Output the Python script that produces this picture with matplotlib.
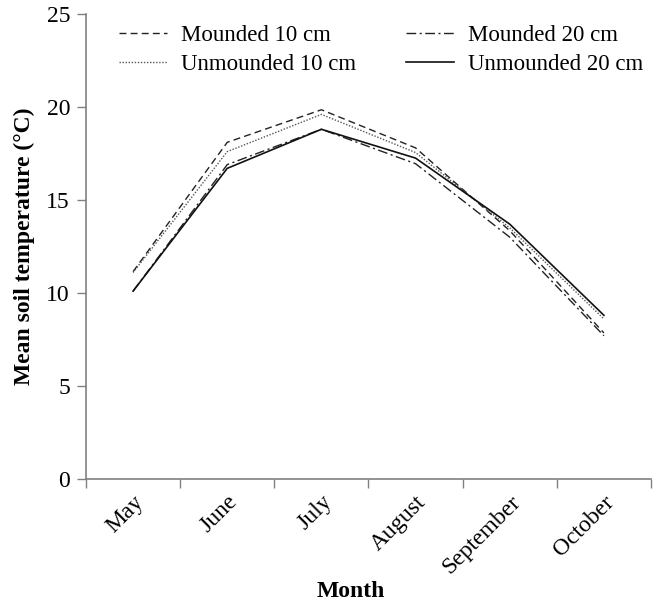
import matplotlib
matplotlib.use("Agg")
import matplotlib.pyplot as plt
import numpy as np

months = ["May", "June", "July", "August", "September", "October"]
mounded_10 = [11.15, 18.1, 19.85, 17.8, 13.35, 7.85]
unmounded_10 = [11.1, 17.6, 19.6, 17.55, 13.5, 8.6]
mounded_20 = [10.1, 16.9, 18.8, 16.95, 13.0, 7.7]
unmounded_20 = [10.1, 16.7, 18.8, 17.25, 13.7, 8.8]

plt.rcParams['font.family'] = ['Liberation Serif', 'DejaVu Serif']

fig = plt.figure(figsize=(6.54, 6.07), dpi=100)
ax = fig.add_axes([0.1315, 0.2109, 0.8639, 0.7661])

x = np.arange(len(months))
ax.plot(x, mounded_10, color='#222222', lw=1.0, linestyle=(0, (5, 3)), label='Mounded 10 cm')
ax.plot(x, unmounded_10, color='#555555', lw=1.0, linestyle=(0, (1, 1.2)), label='Unmounded 10 cm')
ax.plot(x, mounded_20, color='#222222', lw=1.0, linestyle=(0, (7, 2.5, 1.5, 2.5)), label='Mounded 20 cm')
ax.plot(x, unmounded_20, color='#111111', lw=1.2, linestyle='-', label='Unmounded 20 cm')

ax.set_xlim(-0.5, len(months) - 0.5)
ax.set_ylim(0, 25)
ax.set_yticks(range(0, 26, 5))

# tick marks at category boundaries, labels at the centres
ax.set_xticks(np.arange(-0.5, len(months), 1.0))
ax.set_xticklabels([])
ax.set_xticks(x, minor=True)
ax.set_xticklabels(months, minor=True, rotation=45, ha='right', rotation_mode='anchor')
ax.tick_params(axis='x', which='minor', length=0, pad=9, labelsize=17)
ax.tick_params(axis='x', which='major', length=6.5, width=1, color='#808080', direction='out')
ax.tick_params(axis='y', length=6.5, width=1, color='#808080', labelsize=17, pad=5)

for s in ['top', 'right']:
    ax.spines[s].set_visible(False)
for s in ['left', 'bottom']:
    ax.spines[s].set_color('#808080')
    ax.spines[s].set_linewidth(1.2)

ax.set_ylabel('Mean soil temperature (°C)', fontsize=17, fontweight='bold')
ax.yaxis.set_label_coords(-0.09, 0.5)
ax.set_xlabel('Month', fontsize=17, fontweight='bold')
ax.xaxis.set_label_coords(0.468, -0.22)

ax.legend(ncol=2, loc='upper left', bbox_to_anchor=(0.157, 0.985), bbox_transform=fig.transFigure,
          frameon=False, fontsize=16.5, handlelength=2.1, handletextpad=0.6,
          columnspacing=2.2, labelspacing=0.32, borderpad=0.2)

fig.savefig('out.png', dpi=100)
